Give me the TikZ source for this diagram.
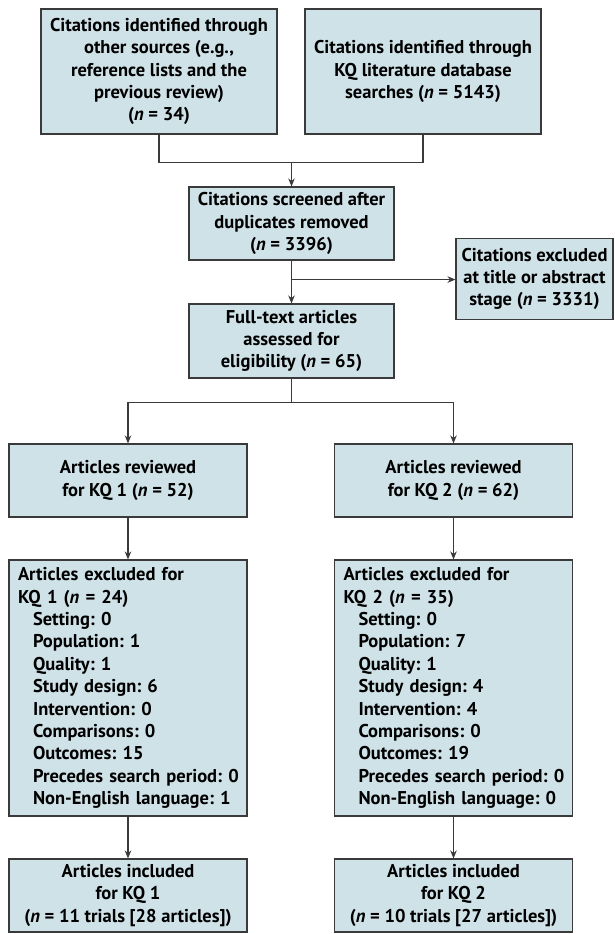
\documentclass[tikz,border=0pt]{standalone}
\usepackage{fontspec}
\usetikzlibrary{arrows.meta}
\newfontfamily\boxfont{PT Sans}
\definecolor{boxblue}{HTML}{CFE2E8}
\definecolor{linegray}{HTML}{3A3A3A}
\frenchspacing

\begin{document}
\begin{tikzpicture}[x=1pt,y=-1pt,
    box/.style={draw=linegray, fill=boxblue, line width=1.1pt, align=center, inner sep=0pt,
      font=\boxfont\bfseries\fontsize{18.5}{22.4}\selectfont},
    boxlist/.style={box, align=left, text width=220pt, inner xsep=9pt},
    link/.style={draw=linegray, line width=1.1pt},
    arrow/.style={link, -{Stealth[length=8pt,width=6.5pt]}}]
			%%%%% START %%%%%
			
			\useasboundingbox[fill=white] (0,0) rectangle (614,934);
			
			% sources
			\node[box, minimum width=236pt, minimum height=125pt] (srcother) at (159,71.5)
			{Citations identified through\\ other sources (e.g.,\\ reference lists and the\\ previous review)\\ (\textit{n} = 34)};
			\node[box, minimum width=236pt, minimum height=125pt] (srcdb) at (423,71.5)
			{Citations identified through\\ KQ literature database\\ searches (\textit{n} = 5143)};
			
			\node[box, minimum width=205pt, minimum height=73pt] (screened) at (291.5,223.5)
			{Citations screened after\\ duplicates removed\\ (\textit{n} = 3396)};
			\node[box, minimum width=157pt, minimum height=81pt] (excltitle) at (534.5,279)
			{Citations excluded\\ at title or abstract\\ stage (\textit{n} = 3331)};
			\node[box, minimum width=205pt, minimum height=74pt] (fulltext) at (291.5,341)
			{Full-text articles\\ assessed for\\ eligibility (\textit{n} = 65)};
			
			% KQ 1
			\node[box, minimum width=238pt, minimum height=73pt] (review1) at (128,480.5)
			{Articles reviewed\\ for KQ 1 (\textit{n} = 52)};
			\node[boxlist, minimum height=256pt] (exclude1) at (128,688)
			{Articles excluded for\\ KQ 1 (\textit{n} = 24)\\
			\hspace*{15pt}Setting: 0\\ \hspace*{15pt}Population: 1\\ \hspace*{15pt}Quality: 1\\
			\hspace*{15pt}Study design: 6\\ \hspace*{15pt}Intervention: 0\\ \hspace*{15pt}Comparisons: 0\\
			\hspace*{15pt}Outcomes: 15\\ \hspace*{15pt}\mbox{Precedes search period: 0}\\ \hspace*{15pt}\mbox{Non-English language: 1}};
			\node[box, minimum width=238pt, minimum height=73pt] (include1) at (128,895.5)
			{Articles included\\ for KQ 1\\ (\textit{n} = 11 trials [28 articles])};
			
			% KQ 2
			\node[box, minimum width=238pt, minimum height=73pt] (review2) at (453.5,480.5)
			{Articles reviewed\\ for KQ 2 (\textit{n} = 62)};
			\node[boxlist, minimum height=256pt] (exclude2) at (453.5,688)
			{Articles excluded for\\ KQ 2 (\textit{n} = 35)\\
			\hspace*{15pt}Setting: 0\\ \hspace*{15pt}Population: 7\\ \hspace*{15pt}Quality: 1\\
			\hspace*{15pt}Study design: 4\\ \hspace*{15pt}Intervention: 4\\ \hspace*{15pt}Comparisons: 0\\
			\hspace*{15pt}Outcomes: 19\\ \hspace*{15pt}\mbox{Precedes search period: 0}\\ \hspace*{15pt}\mbox{Non-English language: 0}};
			\node[box, minimum width=238pt, minimum height=73pt] (include2) at (453.5,895.5)
			{Articles included\\ for KQ 2\\ (\textit{n} = 10 trials [27 articles])};
			
			% connectors
			\path (screened.north) ++(0,-24) coordinate (join);
			\draw[link] (srcother.south) |- (join) -| (srcdb.south);
			\draw[arrow] (join) -- (screened.north);
			\draw[arrow] (screened.south) -- (fulltext.north);
			\path (screened.south) ++(0,19) coordinate (branch);
			\draw[arrow] (branch) -- (branch -| excltitle.west);
			\draw[link] (fulltext.south) -- ++(0,24) coordinate (split);
			\draw[arrow] (split) -| (review1.north);
			\draw[arrow] (split) -| (review2.north);
			\draw[arrow] (review1) -- (exclude1);
			\draw[arrow] (exclude1) -- (include1);
			\draw[arrow] (review2) -- (exclude2);
			\draw[arrow] (exclude2) -- (include2);
			
			%%%%% END %%%%%
		\end{tikzpicture}
\end{document}
